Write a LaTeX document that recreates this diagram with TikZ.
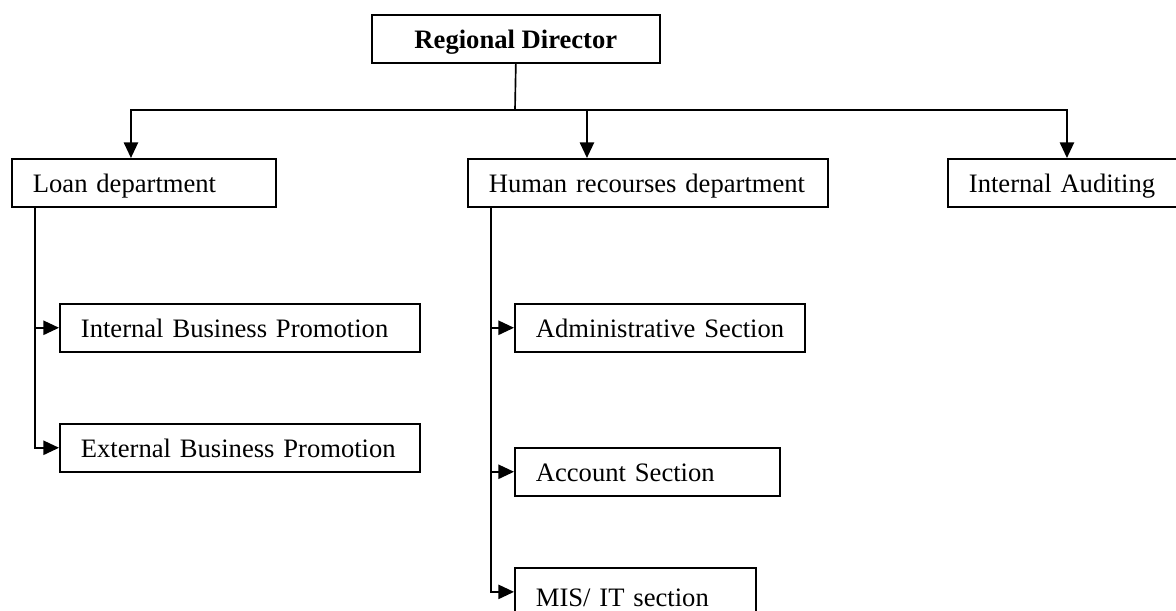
\documentclass[tikz,border=0pt]{standalone}
\usepackage{fontspec}
\setmainfont{Liberation Serif}
\usetikzlibrary{arrows.meta}
\tikzset{
  orgbox/.style={draw, line width=0.75pt, anchor=north west, inner xsep=9.5pt, inner ysep=0pt,
    text height=15.3pt, text depth=6.3pt, font=\fontsize{12pt}{14pt}\selectfont,
    text width=#1, align=left},
  headbox/.style={draw, line width=0.75pt, anchor=north west, inner ysep=0pt,
    minimum width=129.9pt, text height=15.3pt, text depth=6.3pt,
    font=\fontsize{12pt}{14pt}\selectfont\bfseries},
  link/.style={line width=0.75pt, -{Triangle[length=7pt,width=6.4pt]}}
}

\begin{document}
\begin{tikzpicture}[x=0.451pt, y=-0.451pt]
\useasboundingbox (0,0) rectangle (1176,611);
\clip (0,0) rectangle (1176,611);

% Head
\node[headbox] (director) at (371,14) {Regional Director};

% Departments
\node[orgbox=100.1pt] (loan) at (11,158) {Loan department};
\node[orgbox=143.4pt] (hr) at (467,158) {Human recourses department};
\node[orgbox=107.3pt] (audit) at (947,158) {Internal Auditing};

% Loan sections
\node[orgbox=143.4pt] (intbiz) at (59,303) {Internal Business Promotion};
\node[orgbox=143.4pt] (extbiz) at (59,423) {External Business Promotion};

% HR sections
\node[orgbox=112pt] (admin) at (514,303) {Administrative Section};
\node[orgbox=100.6pt] (account) at (514,447) {Account Section};
\node[orgbox=89.7pt, text height=17.4pt, text depth=4.3pt] (mis) at (514,567) {MIS/ IT section};

% Connectors
\coordinate (bus) at (515,110);
\draw[line width=0.75pt] (director.south) -- (bus);
\foreach \d in {loan,hr,audit}
  \draw[link] (bus) -| ([xshift=54.1pt]\d.north west);

\foreach \s in {intbiz,extbiz}
  \draw[link] ([xshift=10.8pt]loan.south west) |- (\s.west);
\foreach \s in {admin,account,mis}
  \draw[link] ([xshift=10.8pt]hr.south west) |- (\s.west);
\end{tikzpicture}
\end{document}
